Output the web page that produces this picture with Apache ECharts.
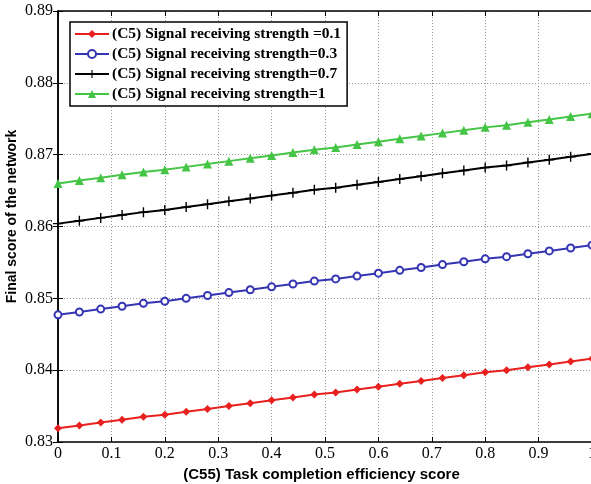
<!DOCTYPE html>
<html>
<head>
<meta charset="utf-8">
<script src="https://cdn.jsdelivr.net/npm/echarts@6/dist/echarts.min.js"></script>
<style>
  html, body { margin: 0; padding: 0; background: #fff; }
  #main { width: 591px; height: 484px; }
</style>
</head>
<body>
<div id="main"></div>
<script>
// x positions of the markers
var xValues = [0, 0.04, 0.08, 0.12, 0.16, 0.2, 0.24, 0.28, 0.32, 0.36, 0.4, 0.44, 0.48,
  0.52, 0.56, 0.6, 0.64, 0.68, 0.72, 0.76, 0.8, 0.84, 0.88, 0.92, 0.96, 1.0];

var seriesNames = [
  '(C5) Signal receiving strength =0.1',
  '(C5) Signal receiving strength=0.3',
  '(C5) Signal receiving strength=0.7',
  '(C5) Signal receiving strength=1'
];

var s01 = [0.8319, 0.8323, 0.8327, 0.8331, 0.8335, 0.8338, 0.8342, 0.8346, 0.8350, 0.8354,
  0.8358, 0.8362, 0.8366, 0.8369, 0.8373, 0.8377, 0.8381, 0.8385, 0.8389, 0.8393,
  0.8397, 0.8400, 0.8404, 0.8408, 0.8412, 0.8416];
var s03 = [0.8477, 0.8481, 0.8485, 0.8489, 0.8493, 0.8496, 0.8500, 0.8504, 0.8508, 0.8512,
  0.8516, 0.8520, 0.8524, 0.8527, 0.8531, 0.8535, 0.8539, 0.8543, 0.8547, 0.8551,
  0.8555, 0.8558, 0.8562, 0.8566, 0.8570, 0.8574];
var s07 = [0.8604, 0.8608, 0.8612, 0.8616, 0.8620, 0.8623, 0.8627, 0.8631, 0.8635, 0.8639,
  0.8643, 0.8647, 0.8651, 0.8654, 0.8658, 0.8662, 0.8666, 0.8670, 0.8674, 0.8678,
  0.8682, 0.8685, 0.8689, 0.8693, 0.8697, 0.8701];
var s1 = [0.8660, 0.8664, 0.8668, 0.8672, 0.8676, 0.8679, 0.8683, 0.8687, 0.8691, 0.8695,
  0.8699, 0.8703, 0.8707, 0.8710, 0.8714, 0.8718, 0.8722, 0.8726, 0.8730, 0.8734,
  0.8738, 0.8741, 0.8745, 0.8749, 0.8753, 0.8757];

var xTicks = ['0', '0.1', '0.2', '0.3', '0.4', '0.5', '0.6', '0.7', '0.8', '0.9', '1'];
var yTicks = ['0.83', '0.84', '0.85', '0.86', '0.87', '0.88', '0.89'];

function pairs(ys) {
  return xValues.map(function (x, i) { return [x, ys[i]]; });
}

var plusPath = 'path://M4.3,0H5.7V4.3H10V5.7H5.7V10H4.3V5.7H0V4.3H4.3Z';

var tickFont = { fontFamily: 'Liberation Serif', fontSize: 16, color: '#000' };
var gridLine = { show: true, lineStyle: { color: '#999', type: [1, 2], width: 1 } };
var axisLine = { show: true, lineStyle: { color: '#000', width: 1.5 } };

var myChart = echarts.init(document.getElementById('main'));

var option = {
  animation: false,
  backgroundColor: '#fff',
  grid: { left: 58, right: -1, top: 11, bottom: 42, outerBoundsMode: 'none', containLabel: false },
  legend: {
    orient: 'vertical',
    left: 70,
    top: 22,
    padding: [4, 6, 4, 4],
    itemGap: 4,
    itemWidth: 34,
    itemHeight: 10,
    borderColor: '#000',
    borderWidth: 1.5,
    backgroundColor: '#fff',
    textStyle: { fontFamily: 'Liberation Serif', fontWeight: 'bold', fontSize: 15.5, color: '#000', padding: [0, 0, 0, -2] },
    data: seriesNames
  },
  xAxis: [{
    type: 'value',
    min: 0, max: 1, interval: 0.1,
    name: '(C55) Task completion efficiency score',
    nameLocation: 'middle',
    nameGap: 24,
    nameTextStyle: { fontFamily: 'Liberation Sans', fontWeight: 'bold', fontSize: 15, color: '#000', padding: [0, 7, 0, 0] },
    axisLine: axisLine,
    axisTick: { inside: true, length: 5, lineStyle: { color: '#000' } },
    axisLabel: Object.assign({ margin: 4, formatter: function (v) { return xTicks[Math.round(v * 10)]; } }, tickFont),
    splitLine: gridLine
  }, {
    type: 'value', position: 'top',
    min: 0, max: 1, interval: 0.1,
    axisLine: axisLine,
    axisTick: { inside: true, length: 5, lineStyle: { color: '#000' } },
    axisLabel: { show: false },
    splitLine: { show: false }
  }],
  yAxis: [{
    type: 'value',
    min: 0.83, max: 0.89, interval: 0.01,
    name: 'Final score of the network',
    nameLocation: 'middle',
    nameGap: 39,
    nameMoveOverlap: false,
    nameTextStyle: { fontFamily: 'Liberation Sans', fontWeight: 'bold', fontSize: 14, color: '#000', padding: [0, 0, 0, 20] },
    axisLine: axisLine,
    axisTick: { inside: true, length: 5, lineStyle: { color: '#000' } },
    axisLabel: Object.assign({ margin: 5, formatter: function (v) { return yTicks[Math.round((v - 0.83) * 100)]; } }, tickFont),
    splitLine: gridLine
  }, {
    type: 'value', position: 'right',
    min: 0.83, max: 0.89, interval: 0.01,
    axisLine: axisLine,
    axisTick: { inside: true, length: 5, lineStyle: { color: '#000' } },
    axisLabel: { show: false },
    splitLine: { show: false }
  }],
  series: [{
    name: seriesNames[0], type: 'line', data: pairs(s01),
    color: '#e8201e',
    lineStyle: { width: 2, color: '#e8201e' },
    symbol: 'diamond', symbolSize: 8,
    itemStyle: { color: '#e8201e' }
  }, {
    name: seriesNames[1], type: 'line', data: pairs(s03),
    color: '#3535b4',
    lineStyle: { width: 2, color: '#3535b4' },
    symbol: 'emptyCircle', symbolSize: 7,
    itemStyle: { color: '#3535b4', borderWidth: 1.5 }
  }, {
    name: seriesNames[2], type: 'line', data: pairs(s07),
    color: '#000',
    lineStyle: { width: 2, color: '#000' },
    symbol: plusPath, symbolSize: 10,
    itemStyle: { color: '#000' }
  }, {
    name: seriesNames[3], type: 'line', data: pairs(s1),
    color: '#45c545',
    lineStyle: { width: 2, color: '#45c545' },
    symbol: 'triangle', symbolSize: 9,
    itemStyle: { color: '#45c545' }
  }]
};

myChart.setOption(option);
</script>
</body>
</html>
